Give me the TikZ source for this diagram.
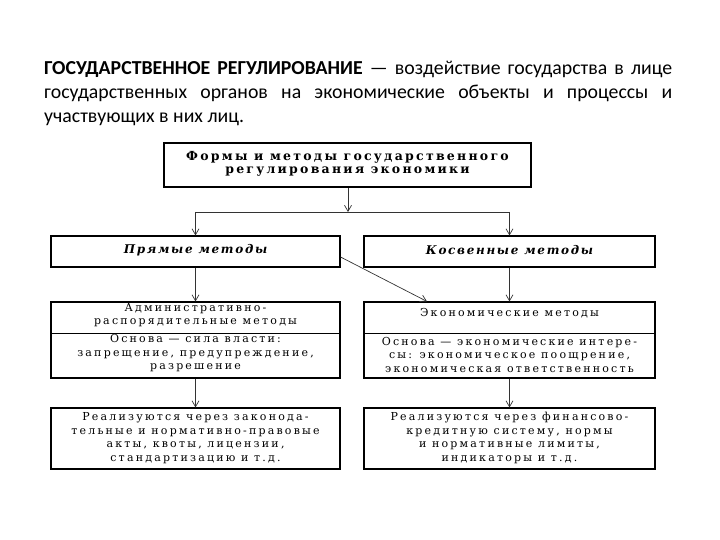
\documentclass[tikz,border=0pt]{standalone}
\usepackage{fontspec}
\setmainfont{Carlito}
\newfontfamily\dg{DejaVu Serif}[LetterSpace=20]
\usetikzlibrary{arrows.meta}
\tikzset{
  box/.style={draw, line width=1.1pt, inner sep=0pt},
  txt/.style={inner sep=0pt, align=center, font=\dg\fontsize{11}{13.5}\selectfont},
  conn/.style={draw=black!80, line width=0.7pt},
  arr/.style={conn, -{Straight Barb[length=6pt,width=7pt,line width=0.7pt]}},
}
\begin{document}
\begin{tikzpicture}[x=1pt,y=-1pt]
\useasboundingbox (0,0) rectangle (720,540);
% title paragraph
\node[anchor=north west, inner sep=0pt, text width=628pt, align=justify,
      font=\fontsize{19.8}{23.8}\selectfont] (title) at (44,61)
  {\textbf{ГОСУДАРСТВЕННОЕ РЕГУЛИРОВАНИЕ} — воздействие государства в лице государственных органов на экономические объекты и процессы и участвующих в них лиц.};
% boxes
\node[box, line width=1.8pt, minimum width=367pt, minimum height=44pt] (top) at (347.5,165) {};
\node[box, minimum width=289pt, minimum height=31pt] (pr) at (195.5,251.5) {};
\node[box, minimum width=291pt, minimum height=31pt] (ks) at (509.5,251.5) {};
\node[box, minimum width=289pt, minimum height=76pt] (adm) at (195.5,340) {};
\node[box, minimum width=291pt, minimum height=76pt] (eco) at (509.5,340) {};
\node[box, minimum width=289pt, minimum height=61pt] (bl) at (195.5,438.5) {};
\node[box, minimum width=291pt, minimum height=61pt] (br) at (509.5,438.5) {};
% texts
\node[txt, font=\dg\addfontfeatures{LetterSpace=18}\bfseries\fontsize{12.5}{13}\selectfont] (topt) at (347.5,164)
  {Формы и методы государственного\\регулирования экономики};
\node[txt, font=\dg\addfontfeatures{LetterSpace=14}\bfseries\itshape\fontsize{12}{13}\selectfont] (prt) at (195.5,250) {Прямые методы};
\node[txt, font=\dg\addfontfeatures{LetterSpace=14}\bfseries\itshape\fontsize{12}{13}\selectfont] (kst) at (509.5,250) {Косвенные методы};
\node[txt] (admt1) at (195.5,315) {Административно-\\распорядительные методы};
\node[txt] (admt2) at (195.5,353.5) {Основа — сила власти:\\запрещение, предупреждение,\\разрешение};
\draw[line width=1pt] ([xshift=2pt]adm.west |- 0,333) -- ([xshift=-2pt]adm.east |- 0,333);
\node[txt] (ecot1) at (509.5,313) {Экономические методы};
\node[txt] (ecot2) at (509.5,354.5) {Основа — экономические интере-\\сы: экономическое поощрение,\\экономическая ответственность};
\draw[line width=1pt] ([xshift=2pt]eco.west |- 0,333) -- ([xshift=-2pt]eco.east |- 0,333);
\node[txt] (blt) at (195.5,438) {Реализуются через законода-\\тельные и нормативно-правовые\\акты, квоты, лицензии,\\стандартизацию и т.д.};
\node[txt] (brt) at (509.5,438) {Реализуются через финансово-\\кредитную систему, нормы\\и нормативные лимиты,\\индикаторы и т.д.};
% connectors
\coordinate (j) at (348,212);
\coordinate (jl) at (195.5,212);
\coordinate (jr) at (509.5,212);
\draw[arr] (top.south -| j) -- (j);
\draw[conn] (jl) -- (jr);
\draw[arr] (jl) -- (pr.north);
\draw[arr] (jr) -- (ks.north);
\draw[arr] (pr.south) -- (adm.north);
\draw[arr] (ks.south) -- (eco.north);
\draw[arr] (adm.south) -- (bl.north);
\draw[arr] (eco.south) -- (br.north);
\coordinate (dg1) at (341,257);
\coordinate (dg2) at (427,302);
\draw[arr] (pr.east |- dg1) -- (eco.north -| dg2);
\end{tikzpicture}
\end{document}
